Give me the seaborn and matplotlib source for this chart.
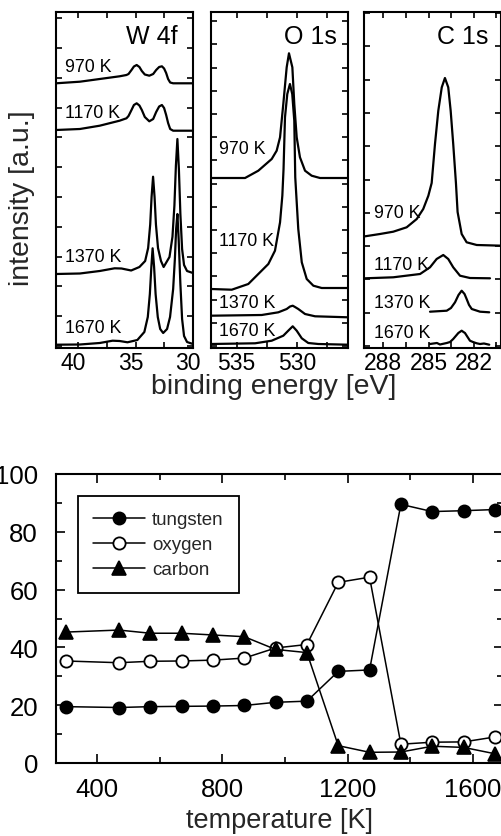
import matplotlib
matplotlib.use('Agg')
import matplotlib.pyplot as plt
from matplotlib.ticker import MultipleLocator, NullFormatter
import matplotlib.transforms as mtransforms
import seaborn as sns

# ---------------- data: W 4f spectra ----------------
w970_be = [41.93, 39.85, 38.12, 36.39, 35.79, 35.61, 35.35, 35.14, 34.90, 34.66, 34.45, 34.19, 33.80,
           33.46, 33.20, 32.94, 32.70, 32.51, 32.33, 32.16, 31.98, 31.72, 30.00]
w970_int = [26.27, 26.43, 26.70, 26.97, 27.10, 27.20, 27.60, 27.95, 28.10, 27.90, 27.50, 27.15, 27.03,
            27.20, 27.60, 27.90, 27.97, 27.75, 27.30, 26.70, 26.35, 26.27, 26.27]
w1170_be = w970_be
w1170_int = [21.60, 21.70, 22.03, 22.53, 22.77, 23.00, 23.60, 24.10, 24.27, 24.05, 23.60, 22.90, 22.47,
             22.70, 23.40, 23.95, 24.10, 23.80, 23.10, 22.30, 21.70, 21.53, 21.53]
w1370_be = [41.93, 39.85, 38.12, 36.82, 36.22, 35.38, 34.66, 34.16, 33.90, 33.72, 33.60, 33.47, 33.34,
            33.22, 33.04, 32.78, 32.55, 32.04, 31.78, 31.61, 31.48, 31.35, 31.22, 31.09, 30.94, 30.77,
            30.51, 30.00]
w1370_int = [7.20, 7.25, 7.50, 7.77, 7.75, 7.55, 7.90, 8.50, 9.80, 12.15, 14.90, 16.93, 14.90,
             12.15, 9.80, 8.50, 7.90, 8.90, 10.92, 14.05, 18.04, 20.70, 17.70, 13.20, 9.70, 8.10,
             7.50, 7.30]
w1670_be = [41.93, 39.85, 38.12, 37.00, 36.39, 35.70, 34.84, 34.23, 33.93, 33.75, 33.62, 33.51, 33.38,
            33.25, 33.06, 32.85, 32.59, 32.25, 31.99, 31.72, 31.57, 31.46, 31.35, 31.24, 31.09, 30.94,
            30.77, 30.51, 30.00]
w1670_int = [0.13, 0.15, 0.30, 0.53, 0.50, 0.37, 0.60, 1.40, 2.90, 5.20, 7.90, 9.77, 7.90,
             5.20, 2.90, 1.70, 1.30, 1.70, 2.90, 5.70, 8.70, 11.70, 13.20, 10.70, 6.20, 2.70,
             1.00, 0.40, 0.20]

# ---------------- data: O 1s spectra ----------------
o970_be = [537.13, 534.31, 533.21, 532.10, 531.69, 531.41, 531.14, 530.86, 530.67, 530.39, 530.23,
           530.03, 529.76, 529.34, 528.79, 528.10, 525.78]
o970_int = [16.80, 16.80, 17.53, 18.70, 19.53, 20.87, 24.20, 27.87, 29.27, 27.87, 24.20,
            20.87, 18.87, 17.53, 17.03, 16.80, 16.80]
o1170_be = [537.13, 535.41, 534.04, 533.21, 532.38, 531.83, 531.41, 531.22, 531.12, 531.00, 530.81,
            530.59, 530.40, 530.23, 530.15, 529.90, 529.61, 529.20, 528.65, 527.96, 525.78]
o1170_int = [5.70, 5.63, 6.20, 7.20, 8.20, 9.53, 12.37, 15.03, 17.70, 22.87, 25.20,
             26.20, 25.20, 22.53, 16.87, 11.70, 8.37, 6.70, 6.03, 5.80, 5.80]
o1370_be = [537.13, 532.93, 531.55, 530.86, 530.58, 530.36, 530.17, 529.90, 529.34, 528.51, 525.78]
o1370_int = [3.03, 3.10, 3.37, 3.70, 3.95, 4.03, 3.90, 3.70, 3.20, 2.97, 2.87]
o1670_be = [537.13, 533.48, 532.10, 531.14, 530.73, 530.36, 530.03, 529.61, 529.07, 528.24, 525.78]
o1670_int = [0.20, 0.27, 0.53, 1.03, 1.53, 1.97, 1.53, 0.77, 0.30, 0.20, 0.13]

# ---------------- data: C 1s spectra ----------------
c970_be = [289.21, 288.22, 287.34, 286.45, 285.78, 285.35, 285.01, 284.79, 284.57, 284.35, 284.12,
           283.91, 283.69, 283.53, 283.36, 283.18, 283.07, 282.80, 282.47, 281.80, 280.14]
c970_int = [10.97, 11.20, 11.43, 11.87, 12.70, 13.70, 15.03, 16.30, 20.20, 23.53, 25.87,
            26.80, 25.87, 23.53, 20.20, 16.30, 13.40, 11.20, 10.37, 10.10, 10.03]
c1170_be = [289.21, 287.34, 285.56, 284.90, 284.46, 284.02, 283.69, 283.36, 282.91, 282.25, 280.92]
c1170_int = [6.77, 6.87, 7.20, 7.87, 8.70, 9.10, 8.70, 7.87, 7.03, 6.80, 6.77]
c1370_be = [284.90, 283.79, 283.51, 283.24, 283.01, 282.80, 282.61, 282.47, 282.31, 282.13, 281.58, 280.97]
c1370_int = [3.43, 3.53, 3.80, 4.37, 5.10, 5.53, 5.20, 4.70, 4.10, 3.70, 3.43, 3.37]
c1670_be = [284.90, 284.44, 284.24, 283.79, 283.57, 283.36, 283.02, 282.80, 282.68, 282.58, 282.41,
            282.25, 282.05, 281.80, 281.58, 281.32, 280.97]
c1670_int = [0.20, 0.30, 0.15, 0.30, 0.40, 0.70, 1.30, 1.53, 1.40, 1.30, 0.90,
             0.53, 0.40, 0.27, 0.20, 0.25, 0.13]

temp_labels = ['970 K', '1170 K', '1370 K', '1670 K']
w_label_y = [27.9, 23.4, 8.9, 1.8]
o_label_y = [19.7, 10.5, 4.37, 1.53]
c_label_y = [13.4, 8.2, 4.37, 1.37]

# ---------------- data: composition vs temperature ----------------
temperature = [300, 470, 570, 670, 770, 870, 970, 1070, 1170, 1270, 1370, 1470, 1570, 1670]
tungsten = [19.5, 19.2, 19.5, 19.6, 19.7, 19.9, 21.0, 21.4, 31.7, 32.2, 89.5, 87.0, 87.3, 87.7]
oxygen = [35.3, 34.7, 35.2, 35.3, 35.6, 36.3, 39.8, 41.0, 62.5, 64.3, 6.5, 7.2, 7.3, 9.0]
carbon = [45.3, 46.0, 44.9, 44.9, 44.3, 43.7, 39.3, 38.2, 6.0, 3.7, 3.8, 5.8, 5.4, 3.2]

# ---------------- style ----------------
sns.set_theme(style='ticks')
plt.rcParams['font.family'] = ['Liberation Sans', 'DejaVu Sans']
plt.rcParams['axes.linewidth'] = 1.5
plt.rcParams['axes.edgecolor'] = 'black'
plt.rcParams['xtick.color'] = 'black'
plt.rcParams['ytick.color'] = 'black'

W, H = 502, 837
fig = plt.figure(figsize=(W / 100, H / 100), dpi=100)


def ax_rect(left, top, right, bottom):
    return [left / W, 1 - bottom / H, (right - left) / W, (bottom - top) / H]


panels = [
    dict(rect=ax_rect(56, 13, 193, 349), xlim=(41.93, 29.99), major=5, minor=2.5, ytick=2.98,
         curves=[(w970_be, w970_int), (w1170_be, w1170_int), (w1370_be, w1370_int), (w1670_be, w1670_int)],
         label_y=w_label_y, label_x=0.066, title='W 4f', title_x=0.89, lab_shift=-5),
    dict(rect=ax_rect(211, 13, 348, 349), xlim=(537.13, 525.78), major=5, minor=2.5, ytick=2.32,
         curves=[(o970_be, o970_int), (o1170_be, o1170_int), (o1370_be, o1370_int), (o1670_be, o1670_int)],
         label_y=o_label_y, label_x=0.06, title='O 1s', title_x=0.92, lab_shift=0),
    dict(rect=ax_rect(364, 13, 501, 349), xlim=(289.28, 280.19), major=3, minor=1.5, ytick=3.33,
         curves=[(c970_be, c970_int), (c1170_be, c1170_int), (c1370_be, c1370_int), (c1670_be, c1670_int)],
         label_y=c_label_y, label_x=0.07, title='C 1s', title_x=0.905, lab_shift=0),
]

for p in panels:
    ax = fig.add_axes(p['rect'])
    for be, inten in p['curves']:
        sns.lineplot(x=be, y=inten, ax=ax, color='black', linewidth=1.6, sort=False, estimator=None)
    ax.set_xlim(*p['xlim'])
    ax.set_ylim(-0.2, 33.4)
    ax.xaxis.set_major_locator(MultipleLocator(p['major']))
    ax.xaxis.set_minor_locator(MultipleLocator(p['minor']))
    ax.yaxis.set_major_locator(MultipleLocator(p['ytick']))
    ax.yaxis.set_major_formatter(NullFormatter())
    ax.tick_params(axis='both', which='both', direction='in', top=True, right=True,
                   width=1.2, length=4.5, colors='black')
    ax.tick_params(axis='x', which='major', labelsize=16.5, pad=2.5)
    ax.set_xlabel('')
    ax.set_ylabel('')
    if p['lab_shift']:
        off = mtransforms.ScaledTranslation(p['lab_shift'] / 100, 0, fig.dpi_scale_trans)
        for lbl in ax.get_xticklabels():
            lbl.set_transform(lbl.get_transform() + off)
    for s in ax.spines.values():
        s.set_linewidth(1.5)
        s.set_color('black')
    trans = mtransforms.blended_transform_factory(ax.transAxes, ax.transData)
    for lab, ly in zip(temp_labels, p['label_y']):
        ax.text(p['label_x'], ly, lab, transform=trans, fontsize=12.8, ha='left', va='center', color='black')
    ax.text(p['title_x'], 0.93, p['title'], transform=ax.transAxes, fontsize=18, ha='right',
            va='center', color='black')

fig.text(22 / W, 1 - 198 / H, 'intensity [a.u.]', rotation=90, fontsize=20.5, ha='center', va='center')
fig.text(274 / W, 1 - 387 / H, 'binding energy [eV]', fontsize=20.5, ha='center', va='center')

# ---------------- bottom panel ----------------
ax2 = fig.add_axes(ax_rect(56, 475, 503, 764))
ms = 8.8
sns.lineplot(x=temperature, y=tungsten, ax=ax2, color='black', linewidth=1.1, marker='o', markersize=ms,
             markerfacecolor='black', markeredgecolor='black', markeredgewidth=1.2, label='tungsten',
             sort=False, estimator=None)
sns.lineplot(x=temperature, y=oxygen, ax=ax2, color='black', linewidth=1.1, marker='o', markersize=ms,
             markerfacecolor='white', markeredgecolor='black', markeredgewidth=1.3, label='oxygen',
             sort=False, estimator=None)
sns.lineplot(x=temperature, y=carbon, ax=ax2, color='black', linewidth=1.1, marker='^', markersize=ms + 0.8,
             markerfacecolor='black', markeredgecolor='black', markeredgewidth=1.2, label='carbon',
             sort=False, estimator=None)
ax2.set_xlim(269, 1696)
ax2.set_ylim(0, 100)
ax2.xaxis.set_major_locator(MultipleLocator(400))
ax2.xaxis.set_minor_locator(MultipleLocator(200))
ax2.yaxis.set_major_locator(MultipleLocator(20))
ax2.yaxis.set_minor_locator(MultipleLocator(10))
ax2.tick_params(axis='both', which='both', direction='in', top=True, right=True, width=1.2, colors='black')
ax2.tick_params(axis='both', which='major', length=6.5, labelsize=18.5)
ax2.tick_params(axis='both', which='minor', length=4.5)
ax2.tick_params(axis='x', which='major', pad=10)
ax2.tick_params(axis='y', which='major', pad=13)
ax2.set_xlabel('temperature [K]', fontsize=19.5, labelpad=4.5)
ax2.set_ylabel('')
for s in ax2.spines.values():
    s.set_linewidth(1.5)
    s.set_color('black')
leg = ax2.legend(loc='upper left', bbox_to_anchor=(0.049, 0.924), borderaxespad=0, fontsize=13.5,
                 frameon=True, fancybox=False, edgecolor='black', framealpha=1, handlelength=2.8,
                 handletextpad=0.35, labelspacing=0.42, borderpad=0.8)
leg.get_frame().set_linewidth(1.3)

fig.savefig('out.png', dpi=100)
